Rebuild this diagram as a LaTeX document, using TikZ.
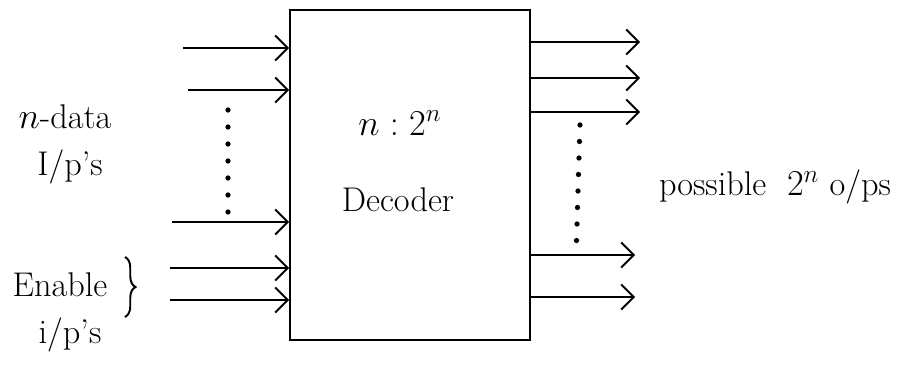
\documentclass[tikz,border=0pt]{standalone}
\usetikzlibrary{positioning,arrows.meta,decorations.pathreplacing}

\begin{document}
\begin{tikzpicture}[line width=1.1pt,
  sig/.style={-{Straight Barb[length=2.5mm,width=5mm]}},
  lbl/.style={font=\fontsize{19.5}{23}\selectfont}]
  \useasboundingbox (0,0) rectangle (18.08,7.38);
  \node[draw,minimum width=4.8cm,minimum height=6.6cm,inner sep=0pt] (dec) at (8.2,3.88) {};
  \node[lbl] (ratio) at (8.0,4.92) {$n:2^n$};
  \node[lbl] (name) at (7.96,3.38) {Decoder};
  % inputs
  \coordinate (in1) at (3.66,6.42);
  \coordinate (in2) at (3.76,5.58);
  \coordinate (in3) at (3.44,2.94);
  \coordinate (en1) at (3.4,2.02);
  \coordinate (en2) at (3.4,1.38);
  \foreach \c in {in1,in2,in3,en1,en2}
    \draw[sig] (\c) -- (\c -| dec.west);
  \foreach \i in {0,...,6}
    \fill (4.56,5.18-0.34*\i) circle (1.5pt);
  \node[lbl] (data) at (1.3,5.04) {$n$-data};
  \node[lbl] (dataip) at (1.4,4.04) {I/p's};
  \node[lbl] (enable) at (1.2,1.68) {Enable};
  \node[lbl] (enip) at (1.4,0.68) {i/p's};
  \draw[decorate,decoration={brace,amplitude=6pt}] (2.5,2.24) -- (2.5,1.04);
  % outputs
  \coordinate (out1) at (12.8,6.54);
  \coordinate (out2) at (12.8,5.82);
  \coordinate (out3) at (12.8,5.14);
  \coordinate (out4) at (12.7,2.28);
  \coordinate (out5) at (12.7,1.44);
  \foreach \c in {out1,out2,out3,out4,out5}
    \draw[sig] (\c -| dec.east) -- (\c);
  \foreach \i in {0,...,7}
    \fill (11.6-0.01*\i,4.88-0.33*\i) circle (1.5pt);
  \node[lbl] (outs) at (15.5,3.64) {possible\ \ $2^n$ o/ps};
\end{tikzpicture}
\end{document}
